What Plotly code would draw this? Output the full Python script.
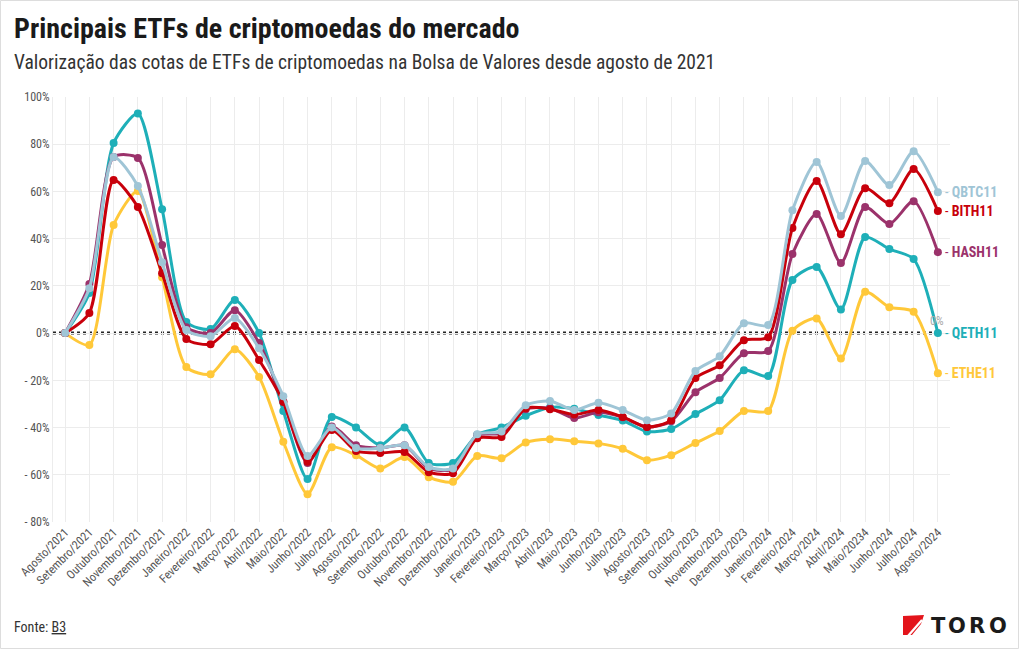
import plotly.graph_objects as go

# ---------------- data ----------------
months = ["Agosto/2021", "Setembro/2021", "Outubro/2021", "Novembro/2021", "Dezembro/2021",
          "Janeiro/2022", "Fevereiro/2022", "Março/2022", "Abril/2022", "Maio/2022", "Junho/2022",
          "Julho/2022", "Agosto/2022", "Setembro/2022", "Outubro/2022", "Novembro/2022",
          "Dezembro/2022", "Janeiro/2023", "Fevereiro/2023", "Março/2023", "Abril/2023",
          "Maio/2023", "Junho/2023", "Julho/2023", "Agosto/2023", "Setembro/2023",
          "Outubro/2023", "Novembro/2023", "Dezembro/2023", "Janeiro/2024", "Fevereiro/2024",
          "Março/2024", "Abril/2024", "Maio/20234", "Junho/2024", "Julho/2024", "Agosto/2024"]

qbtc11 = [0, 19, 74.6, 62.3, 30, 1.3, -1.3, 6.4, -6.4, -26.7, -52, -40, -48.7, -48.7, -47.5,
          -56.7, -57.3, -42.8, -41.7, -30.5, -28.8, -32.6, -29.5, -32.6, -36.9, -34, -16,
          -9.8, 4.2, 3.4, 52, 72.5, 49.6, 72.9, 62.7, 77, 59.7]
bith11 = [0, 8.5, 64.8, 53.4, 25.4, -2.5, -4.7, 3, -11.4, -29.2, -54.5, -41, -49.9, -50.8, -50.4,
          -58.9, -59.3, -44.5, -44, -31.8, -32.2, -34.5, -32.6, -35.5, -39.8, -36.9, -19,
          -13.6, -3, -1.7, 44.5, 64.4, 41.9, 61.4, 55, 69.5, 51.7]
hash11 = [0, 20.8, 74.6, 74.2, 37.3, 2.5, 0, 9.7, -4.2, -29, -55, -39.5, -47.5, -48.7, -47.5,
          -57.3, -57.6, -43.2, -42.4, -32.2, -31.8, -36, -33.5, -35.6, -39.8, -37.3, -25,
          -19, -8.5, -7.6, 33.5, 50.4, 29.7, 53.4, 46.2, 55.9, 34.3]
qeth11 = [0, 17, 80.5, 93, 52.5, 4.7, 1.7, 14, 0, -33, -61.8, -35.5, -40, -47.5, -40,
          -55, -55, -43, -40, -35, -31.5, -32, -34.7, -37, -41.7, -40.6, -34.3,
          -28.4, -15.7, -18.2, 22.5, 28, 10, 40.7, 35.6, 31.4, 0]
ethe11 = [0, -5, 45.8, 60.2, 23.7, -14.4, -17.4, -6.8, -18.6, -46, -68.2, -48.3, -51.7, -57.3,
          -52.5, -61, -63, -52, -53, -46.3, -44.9, -45.8, -46.7, -49, -53.8, -51.7, -46.5,
          -41.5, -33, -33, 1, 6.2, -10.8, 17.5, 11, 9, -17]

series_names = ["QBTC11", "BITH11", "HASH11", "QETH11", "ETHE11"]
series_values = [qbtc11, bith11, hash11, qeth11, ethe11]
series_colors = ["#9fc5d6", "#c8000b", "#9b326b", "#1eafb8", "#ffc839"]

y_tickvals = [100, 80, 60, 40, 20, 0, -20, -40, -60, -80]
y_ticktext = ["100%", "80%", "60%", "40%", "20%", "0%", "- 20%", "- 40%", "- 60%", "- 80%"]

logo_letters = ["T", "O", "R", "O"]

# ---------------- layout geometry ----------------
W, H = 1020, 650
L, R, T, B = 53, 70, 97, 128
PW, PH = W - L - R, H - T - B


def px(x):
    return (x - L) / PW


def py(y):
    return (H - B - y) / PH


FONT = "'Roboto Condensed', 'Liberation Sans Narrow', 'DejaVu Sans Condensed', Roboto, sans-serif"

xs = list(range(len(months)))
fig = go.Figure()

order = [4, 3, 2, 1, 0]
for k in order:
    fig.add_trace(go.Scatter(
        x=xs, y=series_values[k], name=series_names[k], mode="lines+markers",
        line=dict(color=series_colors[k], width=3, shape="spline", smoothing=0.7),
        marker=dict(color=series_colors[k], size=8),
        hoverinfo="skip", showlegend=False,
    ))

annotations = []
for k, name in enumerate(series_names):
    annotations.append(dict(
        x=xs[-1], y=series_values[k][-1], xref="x", yref="y",
        text="<span style='font-weight:400'>-</span> <b>" + name + "</b>",
        showarrow=False, xanchor="left", yanchor="middle", xshift=5,
        font=dict(family=FONT, size=14, color=series_colors[k]),
    ))

annotations.append(dict(x=xs[-1], y=0, xref="x", yref="y", text="0%", showarrow=False,
                        xanchor="center", yanchor="bottom", yshift=3, xshift=-1,
                        font=dict(family=FONT, size=12, color="#aaaaaa")))

annotations.append(dict(x=px(12), y=py(28), xref="paper", yref="paper",
                        text="<b>Principais ETFs de criptomoedas do mercado</b>",
                        showarrow=False, xanchor="left", yanchor="middle",
                        font=dict(family=FONT, size=28, color="#1a1a1a")))
annotations.append(dict(x=px(12), y=py(62), xref="paper", yref="paper",
                        text="Valorização das cotas de ETFs de criptomoedas na Bolsa de Valores desde agosto de 2021",
                        showarrow=False, xanchor="left", yanchor="middle",
                        font=dict(family=FONT, size=19.5, color="#333333")))
annotations.append(dict(x=px(12), y=py(627), xref="paper", yref="paper",
                        text="Fonte: <u>B3</u>", showarrow=False, xanchor="left", yanchor="middle",
                        font=dict(family=FONT, size=14, color="#333333")))

letter_x = [938, 957, 977, 998]
for ch, lx in zip(logo_letters, letter_x):
    annotations.append(dict(x=px(lx), y=py(625.5), xref="paper", yref="paper",
                            text="<b>" + ch + "</b>", showarrow=False, xanchor="center", yanchor="middle",
                            font=dict(family="'DejaVu Sans', sans-serif", size=21, color="#1b1b1b")))

shapes = [
    dict(type="line", xref="x", yref="y", x0=-0.5, x1=xs[-1], y0=0, y1=0,
         line=dict(color="#222222", width=3, dash="dot"), layer="below"),
    dict(type="rect", xref="paper", yref="paper", x0=px(0.5), x1=px(1018.5), y0=py(648.5), y1=py(0.5),
         line=dict(color="#dddddd", width=1)),
    dict(type="path", xref="paper", yref="paper",
         path=f"M {px(903)},{py(616)} L {px(924)},{py(615)} L {px(921)},{py(624)} "
              f"L {px(912)},{py(635)} L {px(903)},{py(635)} Z",
         fillcolor="#e3141b", line=dict(width=0)),
    dict(type="line", xref="paper", yref="paper", x0=px(908), y0=py(636), x1=px(922), y1=py(620),
         line=dict(color="white", width=2.2)),
]

fig.update_layout(
    width=W, height=H,
    margin=dict(l=L, r=R, t=T, b=B, autoexpand=False),
    paper_bgcolor="white", plot_bgcolor="white",
    font=dict(family=FONT, color="#555555"),
    annotations=annotations, shapes=shapes,
    xaxis=dict(range=[-0.5, len(months) - 0.5], tickvals=xs, ticktext=months, tickangle=-45,
               showgrid=True, gridcolor="#ececec", gridwidth=1, zeroline=False,
               showline=False, ticks="", tickfont=dict(family=FONT, size=12, color="#555555"),
               fixedrange=True),
    yaxis=dict(range=[-80, 100], tickvals=y_tickvals, ticktext=y_ticktext,
               showgrid=True, gridcolor="#ececec", gridwidth=1, zeroline=False,
               showline=True, linecolor="#ececec", linewidth=1, ticks="",
               tickfont=dict(family=FONT, size=12, color="#555555"), fixedrange=True),
)

fig.write_html("out.html", config={"displayModeBar": False},
               post_script="document.body.style.margin='0';")
